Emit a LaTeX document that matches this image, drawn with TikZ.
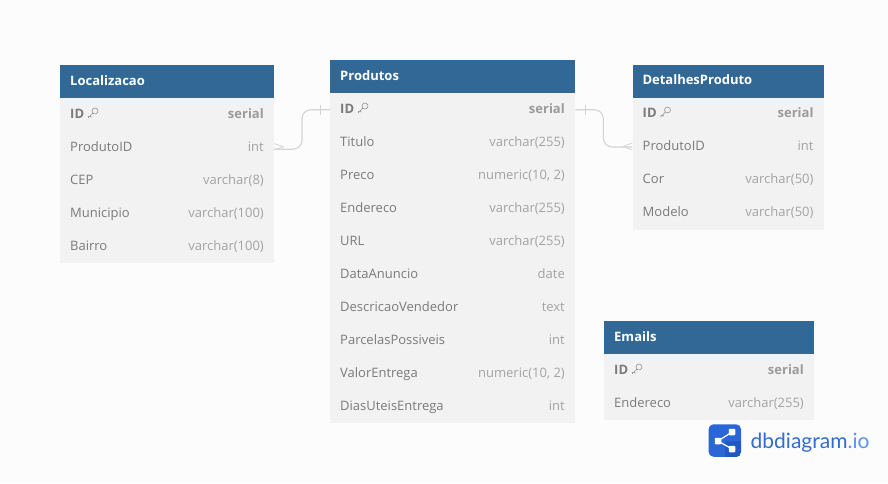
\documentclass[tikz,border=0pt]{standalone}
\usepackage{fontspec}
\setmainfont{Open Sans}
\newfontfamily\logofont{Lato}
\definecolor{pagebg}{HTML}{FCFCFD}
\definecolor{headblue}{HTML}{316896}
\definecolor{rowgray}{HTML}{F2F2F2}
\definecolor{namegray}{HTML}{7A7A7A}
\definecolor{typegray}{HTML}{A3A3A3}
\definecolor{relgray}{HTML}{D4D4D4}
\definecolor{logoblue}{HTML}{2A66D6}
\definecolor{logodark}{HTML}{2159C4}
\definecolor{logotext}{HTML}{2F6DD0}
\definecolor{logolight}{HTML}{5A95EC}
\tikzset{
  headbox/.style={fill=headblue, text=white, font=\fontsize{13}{15}\selectfont\bfseries, anchor=north west, minimum height=33pt, inner sep=0pt, inner xsep=10pt, text height=9.5pt, text depth=2.5pt, align=left},
  rowbox/.style={fill=rowgray, anchor=north west, minimum height=33pt, inner sep=0pt},
  namelabel/.style={text=namegray, font=\fontsize{13}{15}\selectfont, anchor=base west, inner sep=0pt},
  typelabel/.style={text=typegray, font=\fontsize{13}{15}\selectfont, anchor=base east, inner sep=0pt},
  keyname/.style={namelabel, font=\fontsize{13}{15}\selectfont\bfseries},
  keytype/.style={typelabel, text=namegray!75, font=\fontsize{13}{15}\selectfont\bfseries},
  relline/.style={draw=relgray, line width=1.1pt, rounded corners=9pt},
  relmark/.style={draw=relgray, line width=0.8pt},
  keyicon/.pic={
    \draw[namegray!85, line width=0.55pt] (2,-2) circle (3pt);
    \draw[namegray!85, line width=0.55pt] (-0.1,0.1) -- (-4.6,4.6) -- (-4.6,3) (-3,3) -- (-1.6,4.2);
  }
}
\begin{document}
\begin{tikzpicture}[x=1pt, y=-1pt]
  \fill[pagebg] (0,0) rectangle (888,483);
  \useasboundingbox (0,0) rectangle (888,483);

  % Localizacao
  \node[headbox, minimum width=214pt, text width=194pt] (LocHead) at (60,65) {Localizacao};
  \foreach \i/\nm/\ty in {1/ID/serial, 2/ProdutoID/int, 3/CEP/varchar(8), 4/Municipio/varchar(100), 5/Bairro/varchar(100)} {
    \node[rowbox, minimum width=214pt] (Loc\i) at (60,{98+33*(\i-1)}) {};
    \ifnum\i=1
      \node[keyname] (LocN\i) at (70,{118+33*(\i-1)}) {\nm};
      \node[keytype] (LocT\i) at (264,{118+33*(\i-1)}) {\ty};
    \else
      \node[namelabel] (LocN\i) at (70,{118+33*(\i-1)}) {\nm};
      \node[typelabel] (LocT\i) at (264,{118+33*(\i-1)}) {\ty};
    \fi
  }
  \pic at (93,113) {keyicon};

  % Produtos
  \node[headbox, minimum width=245pt, text width=225pt] (ProHead) at (330,60) {Produtos};
  \foreach \i/\nm/\ty in {1/ID/serial, 2/Titulo/varchar(255), 3/Preco/{numeric(10, 2)}, 4/Endereco/varchar(255), 5/URL/varchar(255), 6/DataAnuncio/date, 7/DescricaoVendedor/text, 8/ParcelasPossiveis/int, 9/ValorEntrega/{numeric(10, 2)}, 10/DiasUteisEntrega/int} {
    \node[rowbox, minimum width=245pt] (Pro\i) at (330,{93+33*(\i-1)}) {};
    \ifnum\i=1
      \node[keyname] (ProN\i) at (340,{113+33*(\i-1)}) {\nm};
      \node[keytype] (ProT\i) at (565,{113+33*(\i-1)}) {\ty};
    \else
      \node[namelabel] (ProN\i) at (340,{113+33*(\i-1)}) {\nm};
      \node[typelabel] (ProT\i) at (565,{113+33*(\i-1)}) {\ty};
    \fi
  }
  \pic at (363,108) {keyicon};

  % DetalhesProduto
  \node[headbox, minimum width=191.4pt, text width=171.4pt] (DetHead) at (632.3,64.3) {DetalhesProduto};
  \foreach \i/\nm/\ty in {1/ID/serial, 2/ProdutoID/int, 3/Cor/varchar(50), 4/Modelo/varchar(50)} {
    \node[rowbox, minimum width=191.4pt] (Det\i) at (632.3,{97.3+33*(\i-1)}) {};
    \ifnum\i=1
      \node[keyname] (DetN\i) at (642.5,{117.3+33*(\i-1)}) {\nm};
      \node[keytype] (DetT\i) at (813.7,{117.3+33*(\i-1)}) {\ty};
    \else
      \node[namelabel] (DetN\i) at (642.5,{117.3+33*(\i-1)}) {\nm};
      \node[typelabel] (DetT\i) at (813.7,{117.3+33*(\i-1)}) {\ty};
    \fi
  }
  \pic at (665.5,112) {keyicon};

  % Emails
  \node[headbox, minimum width=210pt, text width=190pt] (EmaHead) at (604,321) {Emails};
  \foreach \i/\nm/\ty in {1/ID/serial, 2/Endereco/varchar(255)} {
    \node[rowbox, minimum width=210pt] (Ema\i) at (604,{354+33*(\i-1)}) {};
    \ifnum\i=1
      \node[keyname] (EmaN\i) at (614,{374+33*(\i-1)}) {\nm};
      \node[keytype] (EmaT\i) at (804,{374+33*(\i-1)}) {\ty};
    \else
      \node[namelabel] (EmaN\i) at (614,{374+33*(\i-1)}) {\nm};
      \node[typelabel] (EmaT\i) at (804,{374+33*(\i-1)}) {\ty};
    \fi
  }
  \pic at (637,369) {keyicon};

  % ligacoes
  \draw[relline] (Pro1.west) -- ++(-28,0) |- ([yshift=-1.5pt]Loc2.east);
  \draw[relmark] ([xshift=-10pt,yshift=-5pt]Pro1.west) -- ([xshift=-10pt,yshift=5pt]Pro1.west);
  \draw[relmark] ([shift={(0,4pt)}]Loc2.east) -- ([shift={(9pt,1pt)}]Loc2.east) -- ([shift={(0,-2pt)}]Loc2.east);
  \draw[relline] (Pro1.east) -- ++(28,0) |- ([yshift=0pt]Det2.west);
  \draw[relmark] ([xshift=10pt,yshift=-5pt]Pro1.east) -- ([xshift=10pt,yshift=5pt]Pro1.east);
  \draw[relmark] ([shift={(0,4pt)}]Det2.west) -- ([shift={(-9pt,0.5pt)}]Det2.west) -- ([shift={(0,-3pt)}]Det2.west);

  % logo
  \node[fill=logoblue, rounded corners=5pt, minimum size=32.5pt, inner sep=0pt] (LogoBox) at (724.8,440.5) {};
  \begin{scope}
    \clip[rounded corners=5pt] (LogoBox.south west) rectangle (LogoBox.north east);
    \fill[logodark] (LogoBox.south) rectangle (LogoBox.east);
  \end{scope}
  \node[fill=white, minimum size=6.5pt, inner sep=0pt, rounded corners=0.8pt] (LogoL) at (718,441) {};
  \node[fill=white, minimum size=6.5pt, inner sep=0pt, rounded corners=0.8pt] (LogoT) at (732,432) {};
  \node[fill=white, minimum size=6.5pt, inner sep=0pt, rounded corners=0.8pt] (LogoB) at (732,449) {};
  \draw[white, line width=1.2pt] (LogoT.center) -- (LogoL.center) -- (LogoB.center);
  \node[anchor=base west, inner sep=0pt, font=\logofont\fontsize{21}{24}\selectfont, text=logotext] (LogoText) at (750.5,448.5) {dbdiagram\textcolor{logolight}{.io}};
\end{tikzpicture}
\end{document}
